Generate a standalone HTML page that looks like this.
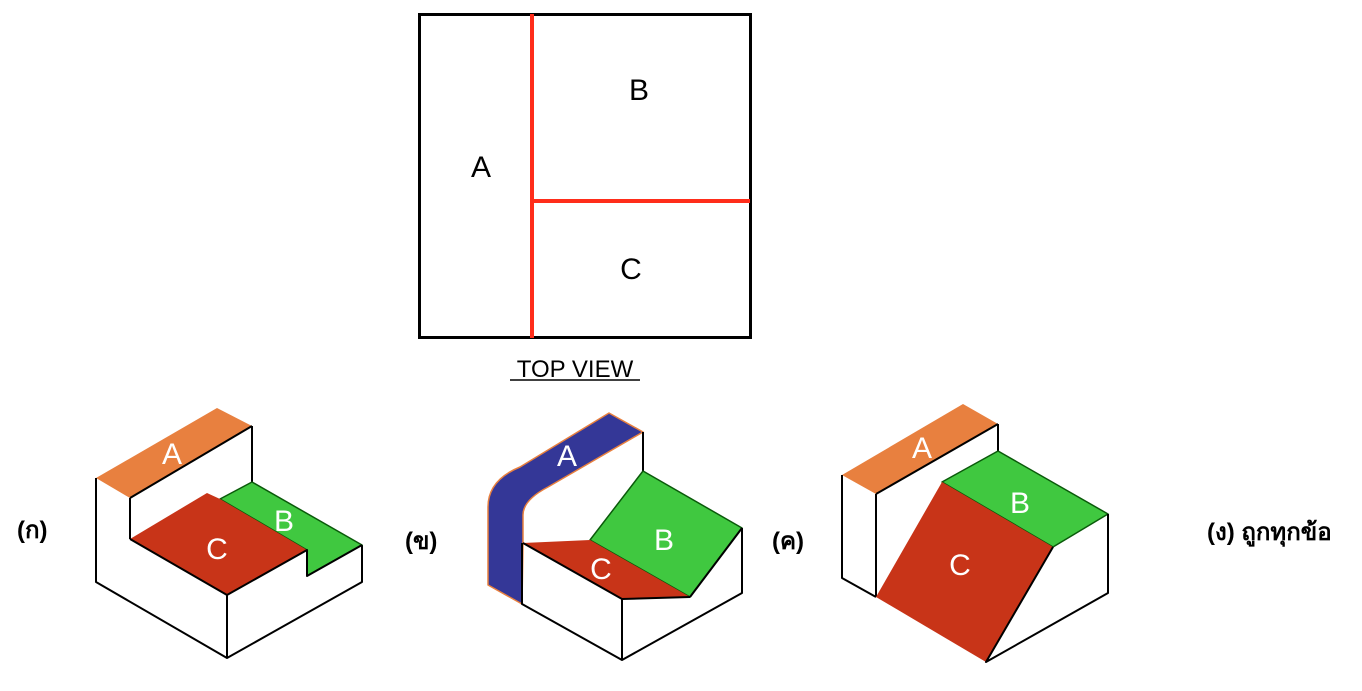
<!DOCTYPE html>
<html><head><meta charset="utf-8"><style>
html,body{margin:0;padding:0;background:#fff;}
body{width:1362px;height:686px;overflow:hidden;font-family:"Liberation Sans","DejaVu Sans",sans-serif;}
</style></head><body>
<svg width="1362" height="686" viewBox="0 0 1362 686" xmlns="http://www.w3.org/2000/svg" font-family="Liberation Sans, DejaVu Sans, sans-serif">
<g>
<rect x="419.5" y="14.5" width="331" height="323" fill="#fff" stroke="#000" stroke-width="3"/>
<line x1="532" y1="14" x2="532" y2="338" stroke="#ff2d1a" stroke-width="4"/>
<line x1="534" y1="201" x2="750" y2="201" stroke="#ff2d1a" stroke-width="4"/>
<text x="481" y="177" font-size="30" text-anchor="middle">A</text>
<text x="639" y="100" font-size="30" text-anchor="middle">B</text>
<text x="631" y="279" font-size="30" text-anchor="middle">C</text>
<text x="575" y="377" font-size="24" text-anchor="middle">TOP VIEW</text>
<line x1="510" y1="380" x2="640" y2="380" stroke="#000" stroke-width="1.5"/>
</g>
<g stroke="#000" stroke-width="2" stroke-linejoin="round">
<polygon points="96,478 217,408 252,426 130,498" fill="#e8803f" stroke="none"/>
<line x1="130" y1="498" x2="252" y2="426"/>
<line x1="252" y1="426" x2="252" y2="482"/>
<polyline points="96,478 96,582 227,658 362,582 362,545" fill="none"/>
<line x1="130" y1="498" x2="130" y2="539"/>
<line x1="227" y1="595" x2="227" y2="658"/>
<polygon points="220,499 252,482 362,545 307,576 307,550" fill="#40c840" stroke="#0a5a0a" stroke-width="1.5"/>
<polygon points="130,539 207,493 220,499 307,550 227,595" fill="#c83418" stroke="none"/>
<polyline points="130,539 227,595 307,550 307,576 362,545" fill="none"/>
<text x="172" y="464" font-size="30" fill="#fff" stroke="none" text-anchor="middle">A</text>
<text x="284" y="531" font-size="30" fill="#fff" stroke="none" text-anchor="middle">B</text>
<text x="217" y="559" font-size="30" fill="#fff" stroke="none" text-anchor="middle">C</text>
</g>
<g stroke="#000" stroke-width="2" stroke-linejoin="round">
<path d="M488,585 L488,507 Q488,480 520,467 L609,413 L643,432 L548,487 Q523,500 523,515 L523,543 L522,604 Z" fill="#343797" stroke="#e8803f" stroke-width="1.5"/>
<line x1="643" y1="432" x2="643" y2="471"/>
<polygon points="590,540 643,471 742,528 690,597" fill="#40c840" stroke="#0a5a0a" stroke-width="1.5"/>
<polygon points="523,543 590,540 690,597 622,599" fill="#c83418" stroke="none"/>
<polyline points="523,543 622,599 690,597" fill="none"/>
<polyline points="522,543 522,604 622,660 742,593 742,528" fill="none"/>
<line x1="622" y1="599" x2="622" y2="660"/>
<line x1="690" y1="597" x2="742" y2="528"/>
<text x="567" y="466" font-size="30" fill="#fff" stroke="none" text-anchor="middle">A</text>
<text x="664" y="550" font-size="30" fill="#fff" stroke="none" text-anchor="middle">B</text>
<text x="601" y="579" font-size="30" fill="#fff" stroke="none" text-anchor="middle">C</text>
</g>
<g stroke="#000" stroke-width="2" stroke-linejoin="round">
<polygon points="842,475 963,404 998,424 876,494" fill="#e8803f" stroke="none"/>
<line x1="876" y1="494" x2="998" y2="424"/>
<line x1="998" y1="424" x2="998" y2="451"/>
<polyline points="842,475 842,578 876,597" fill="none"/>
<line x1="876" y1="494" x2="876" y2="597"/>
<polygon points="942,482 998,451 1108,514 1053,547" fill="#40c840" stroke="#0a5a0a" stroke-width="1.5"/>
<polygon points="942,482 1053,547 986,662 876,597" fill="#c83418" stroke="none"/>
<polyline points="1053,547 986,662 1108,593 1108,514" fill="none"/>
<text x="922" y="458" font-size="30" fill="#fff" stroke="none" text-anchor="middle">A</text>
<text x="1020" y="513" font-size="30" fill="#fff" stroke="none" text-anchor="middle">B</text>
<text x="960" y="575" font-size="30" fill="#fff" stroke="none" text-anchor="middle">C</text>
</g>
<text x="17" y="538" font-size="24" font-weight="bold">(ก)</text>
<text x="405" y="549" font-size="24" font-weight="bold">(ข)</text>
<text x="772" y="549" font-size="24" font-weight="bold">(ค)</text>
<text x="1207" y="540" font-size="24" font-weight="bold">(ง) ถูกทุกข้อ</text>
</svg>
</body></html>
